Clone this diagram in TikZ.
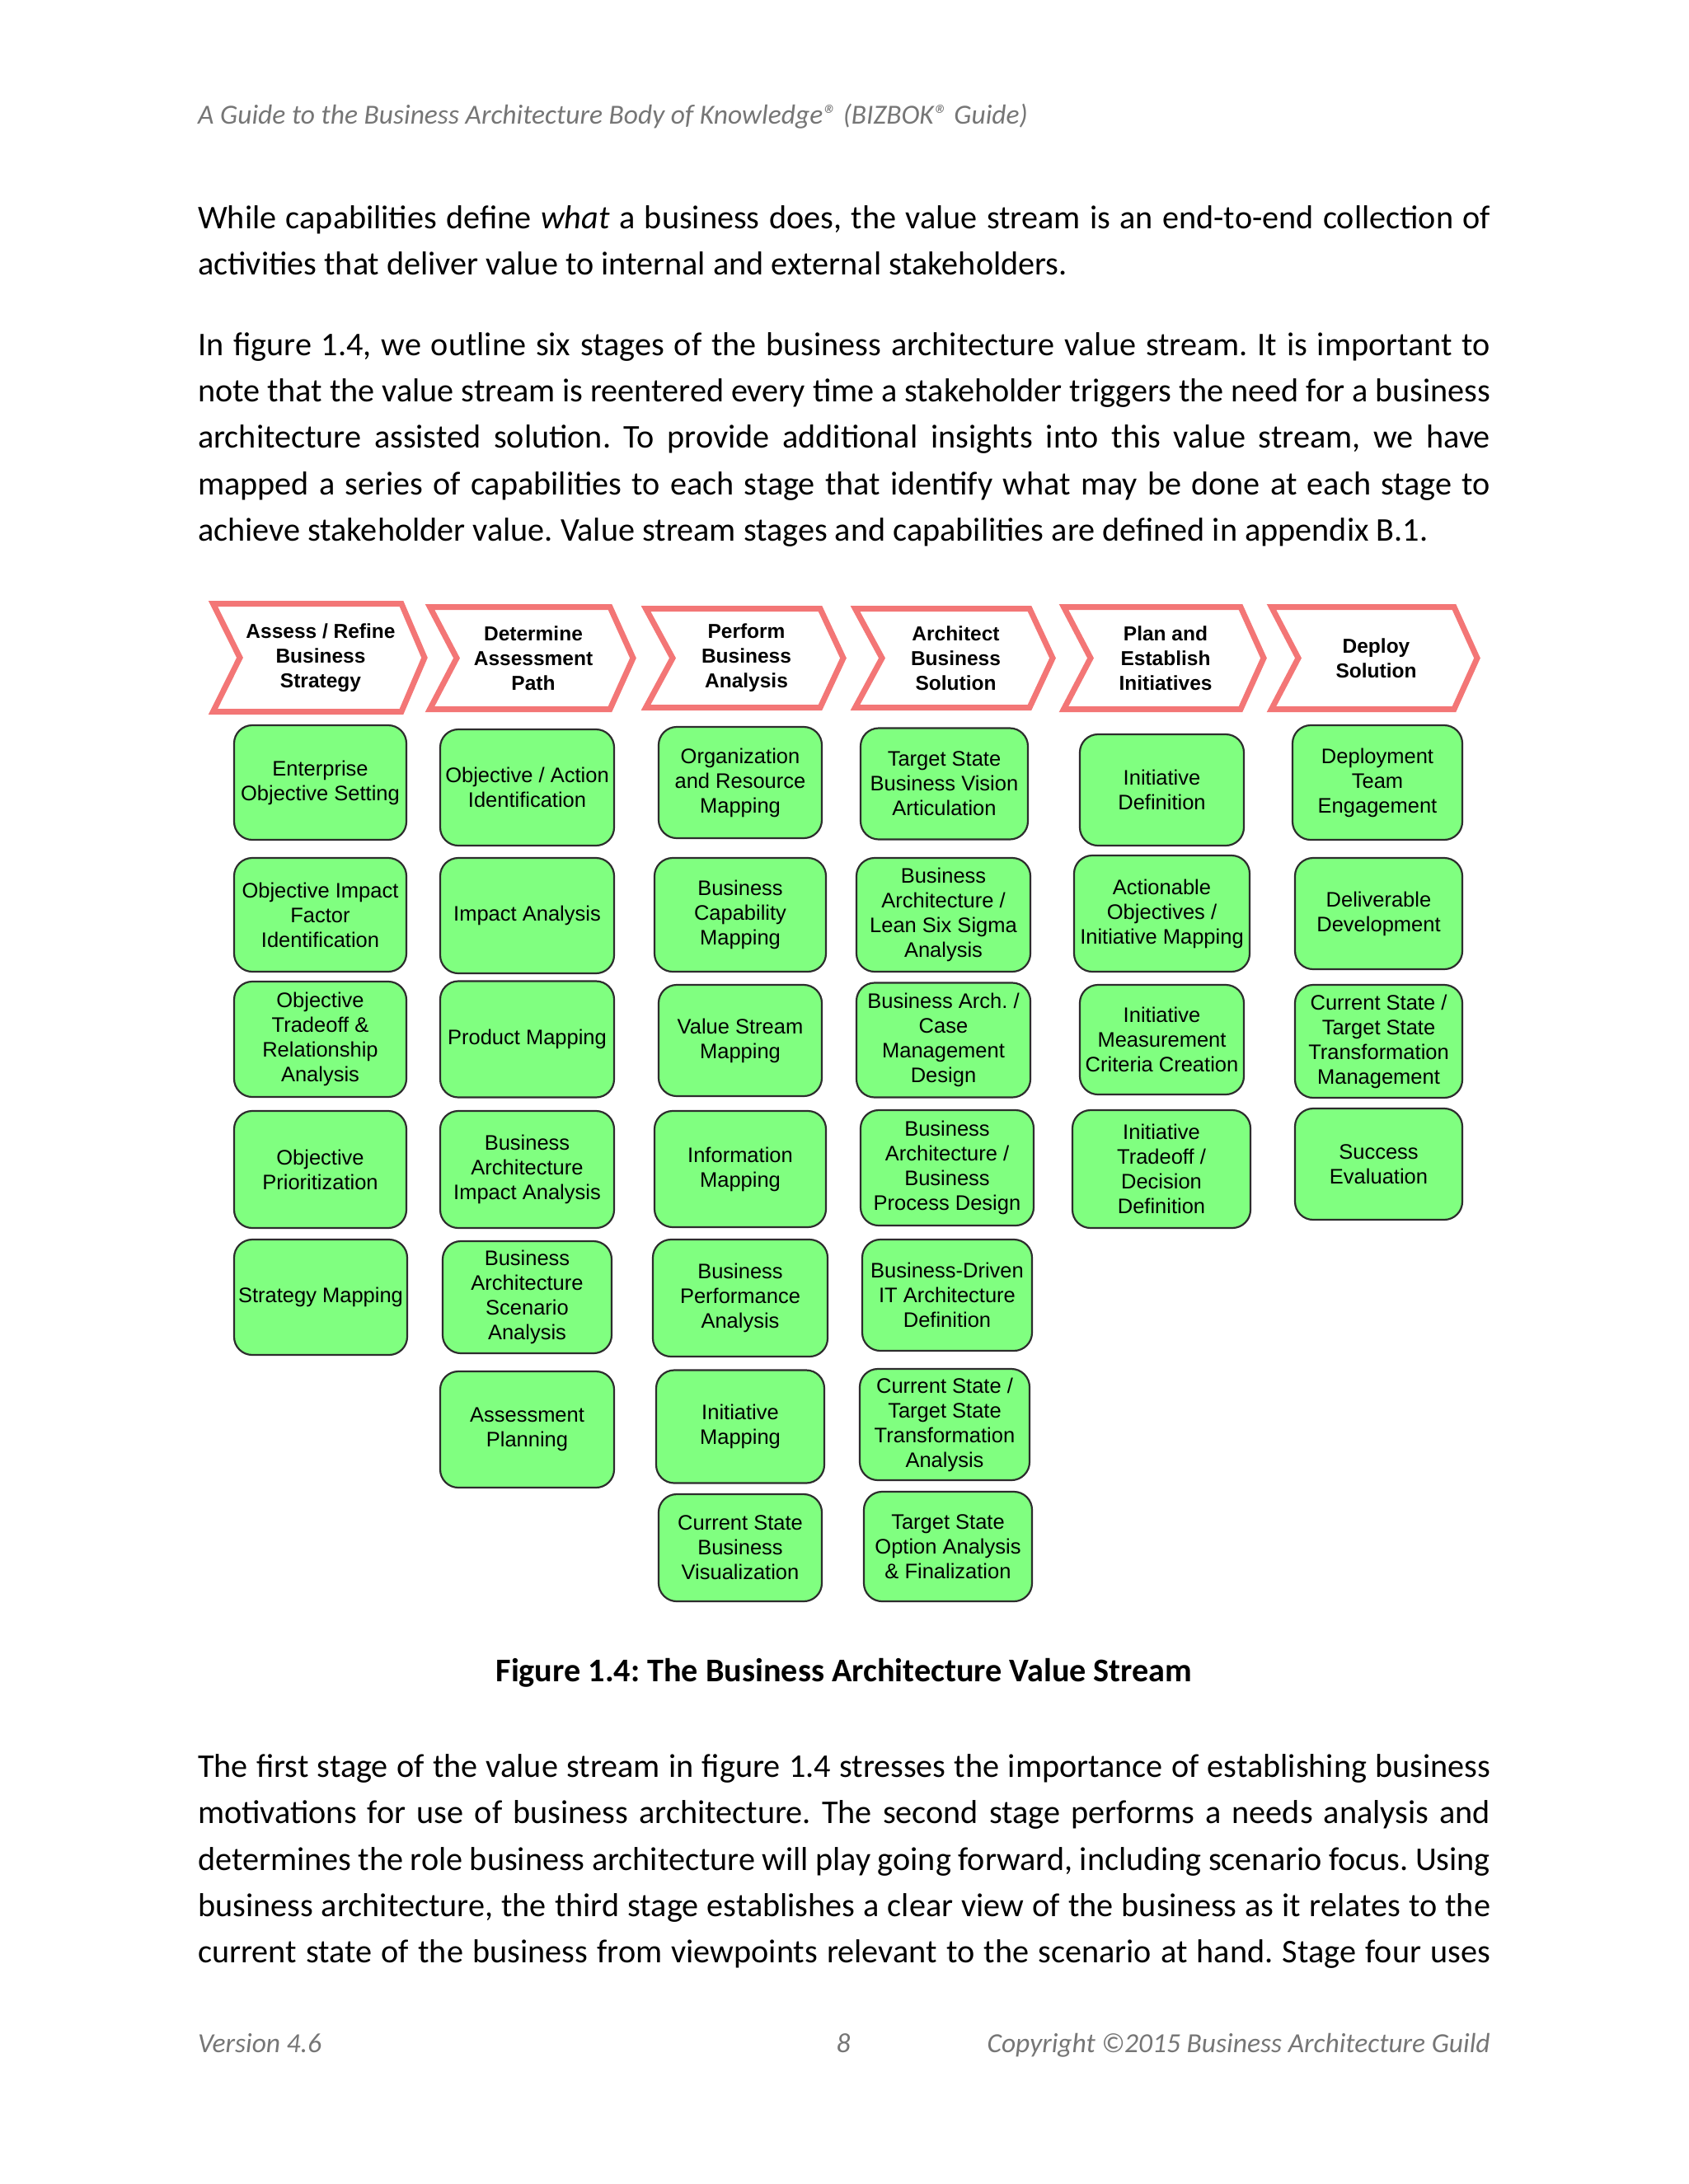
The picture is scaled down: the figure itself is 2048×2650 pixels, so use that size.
\documentclass[tikz,border=0pt]{standalone}
\usepackage{fontspec}
\setmainfont{Carlito}
\newfontfamily\arialf{Liberation Sans}
\definecolor{chevred}{RGB}{243,118,118}
\definecolor{boxgreen}{RGB}{128,255,128}
\definecolor{boxline}{RGB}{45,45,45}
\definecolor{hdrgray}{RGB}{118,118,118}
\newcommand\capnode[6]{\node[capbox, minimum width=#4, minimum height=#5] (#1) at (#2,#3) {#6};}
\newcommand\chevnode[6]{%
  \draw[chevshape] (#2+3.5,#4+3.5) -- (#3-36,#4+3.5) -- (#3-8,{(#4+#5)/2}) -- (#3-36,#5-3.5) -- (#2+3.5,#5-3.5) -- (#2+36,{(#4+#5)/2}) -- cycle;
  \node[chevtext] (#1) at ({(#2+#3)/2},{(#4+#5)/2}) {#6};}
\newcommand\jline[1]{\makebox[1568pt][s]{#1}}
\frenchspacing
\begin{document}
\begin{tikzpicture}[x=1pt,y=-1pt,
  bodyline/.style={anchor=base west, inner sep=0, font=\fontsize{40.2}{48}\selectfont},
  hdr/.style={inner sep=0, font=\fontsize{33.5}{40}\selectfont\itshape, text=hdrgray},
  capbox/.style={draw=boxline, line width=2.2, fill=boxgreen, rounded corners=22, inner sep=0, align=center, font=\arialf\fontsize{25.5}{30}\selectfont},
  chevshape/.style={draw=chevred, line width=7, fill=white, line join=miter},
  chevtext/.style={inner sep=0, align=center, font=\arialf\bfseries\fontsize{24.5}{30}\selectfont},
]
\path[use as bounding box, fill=white] (0,0) rectangle (2048,2650);

% header
\node[hdr, anchor=base west] (header) at (240,150) {A Guide to the Business Architecture Body of Knowledge® (BIZBOK® Guide)};

% paragraph 1
\node[bodyline] (p1a) at (240,277) {\jline{While capabilities define \textit{what} a business does, the value stream is an end-to-end collection of}};
\node[bodyline] (p1b) at (240,333) {activities that deliver value to internal and external stakeholders.};

% paragraph 2
\node[bodyline] (p2a) at (240,431) {\jline{In figure 1.4, we outline six stages of the business architecture value stream. It is important to}};
\node[bodyline] (p2b) at (240,487) {\jline{note that the value stream is reentered every time a stakeholder triggers the need for a business}};
\node[bodyline] (p2c) at (240,543) {\jline{architecture assisted solution. To provide additional insights into this value stream, we have}};
\node[bodyline] (p2d) at (240,600) {\jline{mapped a series of capabilities to each stage that identify what may be done at each stage to}};
\node[bodyline] (p2e) at (240,656) {achieve stakeholder value. Value stream stages and capabilities are defined in appendix B.1.};

% chevrons
\chevnode{s1}{255}{523}{729}{867}{Assess / Refine\\Business\\Strategy}
\chevnode{s2}{518}{776}{733}{864}{Determine\\Assessment\\Path}
\chevnode{s3}{780}{1031}{735}{862}{Perform\\Business\\Analysis}
\chevnode{s4}{1034}{1285}{735}{862}{Architect\\Business\\Solution}
\chevnode{s5}{1287}{1541}{733}{864}{Plan and\\Establish\\Initiatives}
\chevnode{s6}{1539}{1800}{733}{864}{Deploy\\Solution}

% column 1
\capnode{c1r1}{388.5}{949.5}{209}{139}{Enterprise\\Objective Setting}
\capnode{c1r2}{388.5}{1110}{209}{138}{Objective Impact\\Factor\\Identification}
\capnode{c1r3}{388.5}{1261}{209}{140}{Objective\\Tradeoff \&\\Relationship\\Analysis}
\capnode{c1r4}{388.5}{1419}{209}{142}{Objective\\Prioritization}
\capnode{c1r5}{389}{1574}{210}{140}{Strategy Mapping}

% column 2
\capnode{c2r1}{639.5}{955.5}{211}{141}{Objective / Action\\Identification}
\capnode{c2r2}{639.5}{1111}{211}{140}{Impact Analysis}
\capnode{c2r3}{639.5}{1261}{211}{141}{Product Mapping}
\capnode{c2r4}{639.5}{1419}{211}{142}{Business\\Architecture\\Impact Analysis}
\capnode{c2r5}{639.5}{1574}{205}{136}{Business\\Architecture\\Scenario\\Analysis}
\capnode{c2r6}{639.5}{1734.5}{211}{141}{Assessment\\Planning}

% column 3
\capnode{c3r1}{898}{949.5}{198}{135}{Organization\\and Resource\\Mapping}
\capnode{c3r2}{898}{1110}{208}{138}{Business\\Capability\\Mapping}
\capnode{c3r3}{898}{1262.5}{198}{135}{Value Stream\\Mapping}
\capnode{c3r4}{898}{1418.5}{208}{141}{Information\\Mapping}
\capnode{c3r5}{898}{1575}{212}{142}{Business\\Performance\\Analysis}
\capnode{c3r6}{898}{1731}{204}{137}{Initiative\\Mapping}
\capnode{c3r7}{898}{1878}{198}{130}{Current State\\Business\\Visualization}

% column 4
\capnode{c4r1}{1145.5}{951}{203}{135}{Target State\\Business Vision\\Articulation}
\capnode{c4r2}{1144.5}{1110}{211}{138}{Business\\Architecture /\\Lean Six Sigma\\Analysis}
\capnode{c4r3}{1144.5}{1262}{211}{139}{Business Arch. /\\Case\\Management\\Design}
\capnode{c4r4}{1149}{1417}{210}{140}{Business\\Architecture /\\Business\\Process Design}
\capnode{c4r5}{1149}{1571.5}{206}{135}{Business-Driven\\IT Architecture\\Definition}
\capnode{c4r6}{1146}{1728.5}{206}{135}{Current State /\\Target State\\Transformation\\Analysis}
\capnode{c4r7}{1150}{1876.5}{204}{133}{Target State\\Option Analysis\\\& Finalization}

% column 5
\capnode{c5r1}{1409.5}{958.5}{199}{135}{Initiative\\Definition}
\capnode{c5r2}{1409.5}{1108.5}{213}{141}{Actionable\\Objectives /\\Initiative Mapping}
\capnode{c5r3}{1409.5}{1261.5}{199}{133}{Initiative\\Measurement\\Criteria Creation}
\capnode{c5r4}{1409}{1418.5}{216}{143}{Initiative\\Tradeoff /\\Decision\\Definition}

% column 6
\capnode{c6r1}{1671}{949.5}{206}{139}{Deployment\\Team\\Engagement}
\capnode{c6r2}{1672.5}{1108.5}{203}{135}{Deliverable\\Development}
\capnode{c6r3}{1672.5}{1263.5}{203}{137}{Current State /\\Target State\\Transformation\\Management}
\capnode{c6r4}{1672.5}{1412.5}{203}{135}{Success\\Evaluation}

% caption
\node[inner sep=0, anchor=base, font=\fontsize{40.2}{48}\selectfont\bfseries] (caption) at (1024,2040) {Figure 1.4: The Business Architecture Value Stream};

% paragraph 3
\node[bodyline] (p3a) at (240,2156) {\jline{The first stage of the value stream in figure 1.4 stresses the importance of establishing business}};
\node[bodyline] (p3b) at (240,2212) {\jline{motivations for use of business architecture. The second stage performs a needs analysis and}};
\node[bodyline] (p3c) at (240,2269) {\jline{determines the role business architecture will play going forward, including scenario focus. Using}};
\node[bodyline] (p3d) at (240,2325) {\jline{business architecture, the third stage establishes a clear view of the business as it relates to the}};
\node[bodyline] (p3e) at (240,2381) {\jline{current state of the business from viewpoints relevant to the scenario at hand. Stage four uses}};

% footer
\node[hdr, anchor=base west] (fver) at (240,2490) {Version 4.6};
\node[hdr, anchor=base] (fpage) at (1023,2490) {8};
\node[hdr, anchor=base east] (fcopy) at (1808,2490) {Copyright ©2015 Business Architecture Guild};
\end{tikzpicture}
\end{document}
